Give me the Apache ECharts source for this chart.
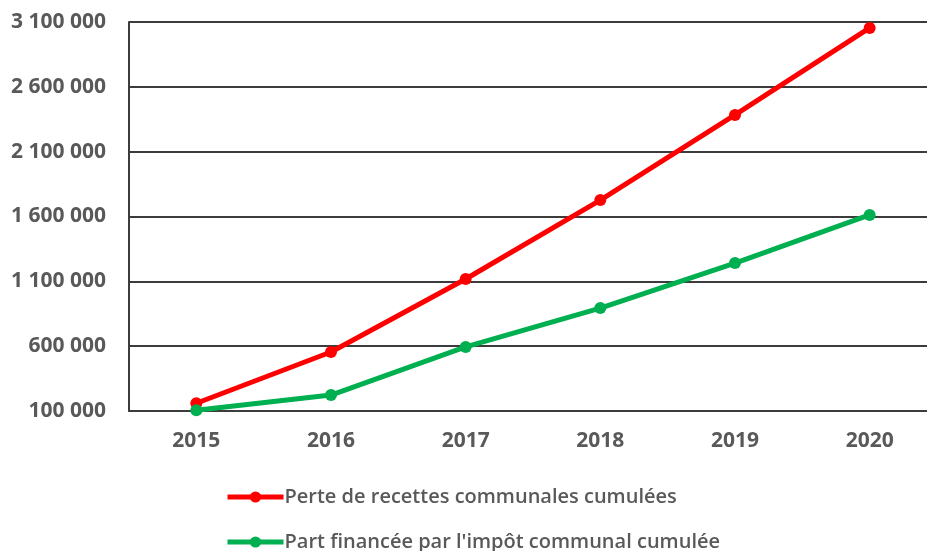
<!DOCTYPE html>
<html>
<head>
<meta charset="utf-8">
<script src="https://cdn.jsdelivr.net/npm/echarts@6/dist/echarts.min.js"></script>
<style>
  html, body { margin: 0; padding: 0; background: #fff; overflow: hidden; }
  #chart { width: 940px; height: 551px; }
</style>
</head>
<body>
<div id="chart"></div>
<script>
var years = ['2015', '2016', '2017', '2018', '2019', '2020'];
var perteRecettes = [160000, 555000, 1118000, 1727000, 2383000, 3054000];
var partImpot = [105000, 223000, 594000, 894000, 1241000, 1612000];
var yTicks = [100000, 600000, 1100000, 1600000, 2100000, 2600000, 3100000];
var seriesNames = ['Perte de recettes communales cumulées', "Part financée par l'impôt communal cumulée"];

function formatNumber(v) {
    return String(v).replace(/\B(?=(\d{3})+(?!\d))/g, ' ');
}

var chart = echarts.init(document.getElementById('chart'));
var textColor = '#595959';
var gridColor = '#3c3c3c';

function legendFor(name, top) {
    return {
        orient: 'horizontal',
        left: 225,
        top: top,
        padding: 0,
        itemWidth: 56,
        itemHeight: 14,
        lineStyle: { width: 5 },
        textStyle: { color: textColor, fontSize: 20, fontWeight: 600, lineHeight: 24, padding: [0, 0, 0, -4] },
        data: [name]
    };
}

chart.setOption({
    animation: false,
    textStyle: { fontFamily: 'Open Sans' },
    grid: { left: 129, width: 808, top: 22, height: 389 },
    xAxis: {
        type: 'category',
        data: years,
        boundaryGap: true,
        axisLine: { show: true, lineStyle: { color: gridColor, width: 2 } },
        axisTick: { show: false },
        axisLabel: { color: textColor, fontSize: 21, fontWeight: 'bold', margin: 20 }
    },
    yAxis: {
        type: 'value',
        min: yTicks[0],
        max: yTicks[yTicks.length - 1],
        interval: 500000,
        axisLine: { show: true, lineStyle: { color: gridColor, width: 2 } },
        axisTick: { show: false },
        splitLine: { lineStyle: { color: gridColor, width: 2 } },
        axisLabel: {
            color: textColor, fontSize: 21, fontWeight: 'bold', margin: 23,
            formatter: function (v) { return formatNumber(v); }
        }
    },
    legend: [legendFor(seriesNames[0], 485), legendFor(seriesNames[1], 530)],
    series: [
        {
            name: seriesNames[0],
            type: 'line',
            data: perteRecettes,
            symbol: 'circle',
            symbolSize: 12,
            color: '#ff0000',
            lineStyle: { width: 5, color: '#ff0000' },
            itemStyle: { color: '#ff0000' }
        },
        {
            name: seriesNames[1],
            type: 'line',
            data: partImpot,
            symbol: 'circle',
            symbolSize: 12,
            color: '#00b050',
            lineStyle: { width: 5, color: '#00b050' },
            itemStyle: { color: '#00b050' }
        }
    ]
});
</script>
</body>
</html>
